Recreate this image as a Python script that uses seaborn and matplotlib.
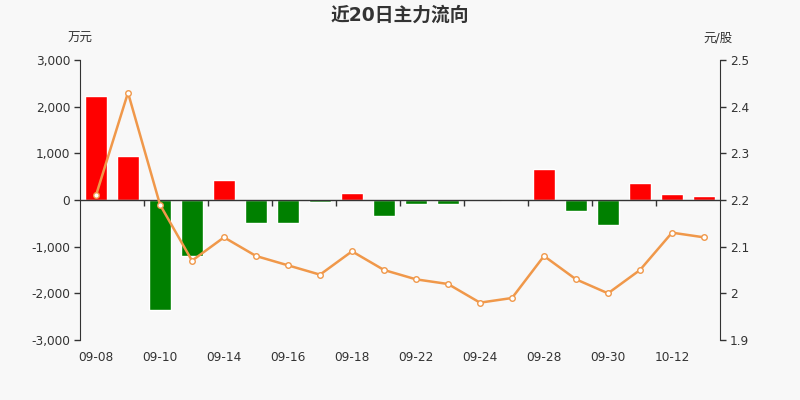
import numpy as np
import pandas as pd
import seaborn as sns
import matplotlib.pyplot as plt
from matplotlib.ticker import FuncFormatter

# dados do gráfico
datas = ["09-08", "09-09", "09-10", "09-11", "09-14", "09-15", "09-16", "09-17", "09-18", "09-21",
         "09-22", "09-23", "09-24", "09-25", "09-28", "09-29", "09-30", "10-09", "10-12", "10-13"]
fluxo = [2230, 950, -2350, -1190, 430, -490, -490, -50, 140, -350,
         -90, -80, 0, -15, 660, -230, -540, 355, 135, 85]
preco = [2.21, 2.43, 2.19, 2.07, 2.12, 2.08, 2.06, 2.04, 2.09, 2.05,
         2.03, 2.02, 1.98, 1.99, 2.08, 2.03, 2.00, 2.05, 2.13, 2.12]

df = pd.DataFrame({"data": datas, "fluxo": fluxo, "preco": preco})
df["sinal"] = np.where(df["fluxo"] >= 0, "pos", "neg")
df["pos"] = np.arange(len(df))

sns.set_style("white")
plt.rcParams["font.family"] = ["DejaVu Sans", "Noto Sans CJK SC"]
bg = "#f8f8f8"
cor_texto = "#333333"

fig = plt.figure(figsize=(8, 4), dpi=100, facecolor=bg)
ax = fig.add_axes([0.1, 0.15, 0.8, 0.7], facecolor=bg)

sns.barplot(data=df, x="data", y="fluxo", hue="sinal", palette={"pos": "#ff0000", "neg": "#008000"},
            dodge=False, legend=False, width=0.69, ax=ax, saturation=1)
ax.axhline(0, color=cor_texto, linewidth=1, zorder=3)
ax.set_ylim(-3000, 3000)
ax.set_xlim(-0.5, len(df) - 0.5)
ax.set_yticks(np.arange(-3000, 3001, 1000))
ax.yaxis.set_major_formatter(FuncFormatter(lambda v, p: f"{int(v):,}"))
ax.set_xticks(df["pos"][::2])
ax.set_xticklabels(df["data"][::2])
ax.tick_params(axis="x", length=0, pad=8, labelsize=8.7, colors=cor_texto)
ax.tick_params(axis="y", length=4, width=1, pad=3, labelsize=8.7, colors=cor_texto)
ax.set_xlabel("")
ax.set_ylabel("")
for s in ["top", "right", "bottom"]:
    ax.spines[s].set_visible(False)
ax.spines["left"].set_color(cor_texto)

# marcas do eixo x no zero, entre pares de datas
eixo0 = ax.secondary_xaxis(0.5)
eixo0.set_xticks(np.arange(1.5, len(df) - 1, 2))
eixo0.xaxis.set_ticks_position("bottom")
eixo0.tick_params(length=4, width=1, direction="out", labelbottom=False, labeltop=False,
                  color=cor_texto)
eixo0.spines["bottom"].set_visible(False)
eixo0.spines["top"].set_visible(False)

# preço no eixo direito
ax2 = ax.twinx()
sns.lineplot(data=df, x="pos", y="preco", ax=ax2, color="#f0984a", linewidth=1.8,
             marker="o", markersize=4, markerfacecolor="white", markeredgecolor="#f0984a",
             markeredgewidth=1)
ax2.set_ylim(1.9, 2.5)
ax2.set_yticks([1.9, 2.0, 2.1, 2.2, 2.3, 2.4, 2.5])
ax2.yaxis.set_major_formatter(FuncFormatter(lambda v, p: f"{v:g}"))
ax2.tick_params(axis="y", length=4, width=1, pad=3, labelsize=8.7, colors=cor_texto)
ax2.set_ylabel("")
ax2.set_xlabel("")
for s in ["top", "left", "bottom"]:
    ax2.spines[s].set_visible(False)
ax2.spines["right"].set_color(cor_texto)

fig.text(0.5, 0.962, "近20日主力流向", ha="center", va="center", fontsize=13.5,
         fontweight="bold", color=cor_texto)
fig.text(0.1, 0.905, "万元", ha="center", va="center", fontsize=9, color=cor_texto)
fig.text(0.898, 0.905, "元/股", ha="center", va="center", fontsize=9, color=cor_texto)

fig.savefig("out.png", dpi=100, facecolor=bg)
